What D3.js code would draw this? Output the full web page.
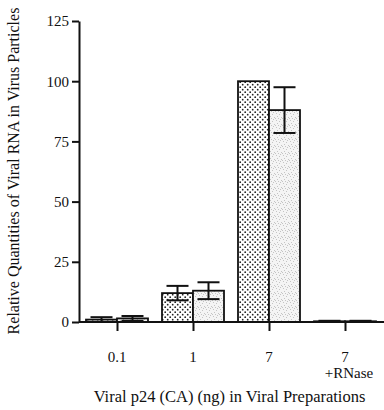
<!DOCTYPE html>
<html>
<head>
<meta charset="utf-8">
<script src="https://cdn.jsdelivr.net/npm/d3@7"></script>
<style>
  body { margin: 0; background: #fff; }
</style>
</head>
<body>
<div id="chart"></div>
<script>
"use strict";

var FONT = "'Liberation Serif', 'Times New Roman', serif";

// categories and tick labels
var categories = ["0.1", "1", "7", "7 +RNase"];
var catLabels = [["0.1"], ["1"], ["7"], ["7", "+RNase"]];
// two series per category (dotted bar, stippled bar)
var series1 = [1, 12, 100, 0.3];
var series1Err = [1, 3, 0, 0.2];
var series2 = [1.5, 13, 88, 0.3];
var series2Err = [1, 3.5, 9.5, 0.2];
var yTicks = [0, 25, 50, 75, 100, 125];

var margin = {top: 21, right: 0, bottom: 88, left: 79},
    width = 384 - margin.left - margin.right,
    height = 410 - margin.top - margin.bottom;

var svg = d3.select("#chart").append("svg")
    .attr("width", 384)
    .attr("height", 410);

// fill patterns
var defs = svg.append("defs");
var dots = defs.append("pattern")
    .attr("id", "dots")
    .attr("patternUnits", "userSpaceOnUse")
    .attr("width", 5).attr("height", 5);
dots.append("rect").attr("width", 5).attr("height", 5).attr("fill", "#fff");
dots.append("circle").attr("cx", 1.2).attr("cy", 1.2).attr("r", 0.9).attr("fill", "#222");
dots.append("circle").attr("cx", 3.7).attr("cy", 3.7).attr("r", 0.9).attr("fill", "#222");

var stipple = defs.append("pattern")
    .attr("id", "stipple")
    .attr("patternUnits", "userSpaceOnUse")
    .attr("width", 7).attr("height", 7);
stipple.append("rect").attr("width", 7).attr("height", 7).attr("fill", "#f4f4f4");
[[1, 1], [4, 2], [2, 4], [6, 5], [5, 0], [0, 6], [3, 6]].forEach(function(p) {
    stipple.append("rect").attr("x", p[0]).attr("y", p[1])
        .attr("width", 0.8).attr("height", 0.8).attr("fill", "#aaa");
});

var g = svg.append("g")
    .attr("transform", "translate(" + margin.left + "," + margin.top + ")");

// scales
var x = d3.scalePoint()
    .domain(categories)
    .range([38, 266]);
var y = d3.scaleLinear()
    .domain([0, 125])
    .range([height, 0]);

var barW = 31;

var rows = categories.map(function(c, i) {
    return [
        {cat: c, k: 0, v: series1[i], e: series1Err[i]},
        {cat: c, k: 1, v: series2[i], e: series2Err[i]}
    ];
});
var bars = [].concat.apply([], rows);

// bars
g.selectAll("rect.bar")
    .data(bars)
  .enter().append("rect")
    .attr("class", "bar")
    .attr("x", function(d) { return x(d.cat) + (d.k === 0 ? -barW : 0); })
    .attr("y", function(d) { return y(d.v); })
    .attr("width", barW)
    .attr("height", function(d) { return height - y(d.v); })
    .attr("fill", function(d) { return d.k === 0 ? "url(#dots)" : "url(#stipple)"; })
    .attr("stroke", "#111")
    .attr("stroke-width", 1.8);

// error bars
var errs = bars.filter(function(d) { return d.e > 0; });
var eg = g.selectAll("g.err")
    .data(errs)
  .enter().append("g")
    .attr("class", "err")
    .attr("transform", function(d) {
        return "translate(" + (x(d.cat) + (d.k === 0 ? -barW / 2 : barW / 2)) + ",0)";
    });
eg.append("line")
    .attr("y1", function(d) { return y(d.v + d.e); })
    .attr("y2", function(d) { return y(Math.max(0, d.v - d.e)); })
    .attr("stroke", "#111").attr("stroke-width", 2);
eg.append("line")
    .attr("x1", -11).attr("x2", 11)
    .attr("y1", function(d) { return y(d.v + d.e); })
    .attr("y2", function(d) { return y(d.v + d.e); })
    .attr("stroke", "#111").attr("stroke-width", 2);
eg.append("line")
    .attr("x1", -11).attr("x2", 11)
    .attr("y1", function(d) { return y(Math.max(0, d.v - d.e)); })
    .attr("y2", function(d) { return y(Math.max(0, d.v - d.e)); })
    .attr("stroke", "#111").attr("stroke-width", 2);

// y axis
var yAxis = g.append("g")
    .call(d3.axisLeft(y).tickValues(yTicks).tickSize(7).tickSizeOuter(0).tickPadding(3));
yAxis.attr("font-family", FONT).attr("font-size", 15);
yAxis.select(".domain").attr("stroke", "#111").attr("stroke-width", 2);
yAxis.selectAll(".tick line").attr("stroke", "#111").attr("stroke-width", 2);
yAxis.selectAll(".tick text")
    .style("font-family", FONT)
    .style("font-size", "15px")
    .attr("fill", "#111");

// x axis
var xAxis = g.append("g")
    .attr("transform", "translate(0," + height + ")")
    .call(d3.axisBottom(x).tickSize(9).tickSizeOuter(0).tickFormat(""));
xAxis.select(".domain").attr("d", "M0,0H" + width).attr("stroke", "#111").attr("stroke-width", 2);
xAxis.selectAll(".tick line").attr("stroke", "#111").attr("stroke-width", 2);

// category labels
categories.forEach(function(c, i) {
    catLabels[i].forEach(function(t, j) {
        g.append("text")
            .attr("x", x(c) + (j === 1 ? 4 : 0))
            .attr("y", height + 40 + j * 16)
            .attr("text-anchor", "middle")
            .attr("fill", "#111")
            .style("font-family", FONT)
            .style("font-size", "15px")
            .text(t);
    });
});

// axis titles
g.append("text")
    .attr("x", width / 2 - 2)
    .attr("y", height + 80)
    .attr("text-anchor", "middle")
    .attr("fill", "#111")
    .style("font-family", FONT)
    .style("font-size", "16.5px")
    .text("Viral p24 (CA) (ng) in Viral Preparations");

g.append("text")
    .attr("transform", "rotate(-90)")
    .attr("x", -150)
    .attr("y", -60)
    .attr("text-anchor", "middle")
    .attr("fill", "#111")
    .style("font-family", FONT)
    .style("font-size", "16px")
    .text("Relative Quantities of Viral RNA in Virus Particles");
</script>
</body>
</html>
